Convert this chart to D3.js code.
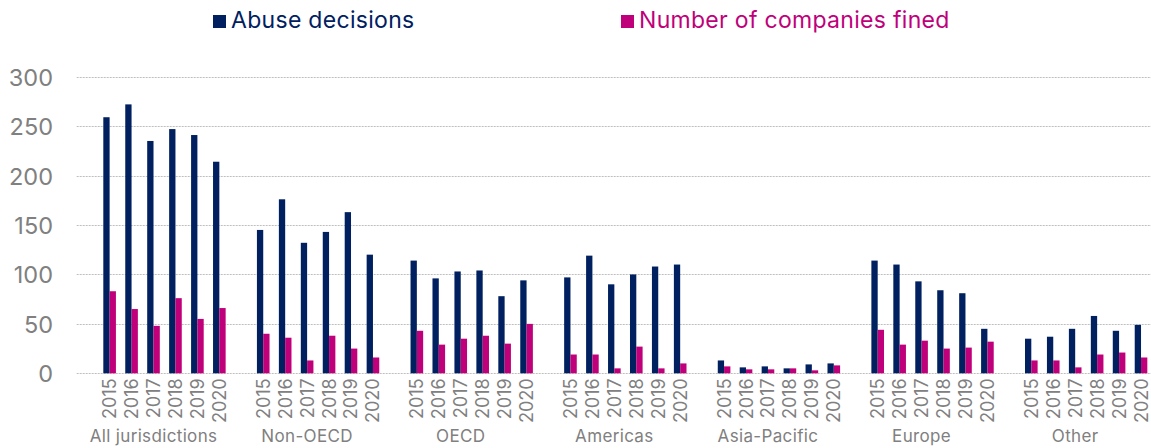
<!DOCTYPE html>
<html>
<head>
<meta charset="utf-8">
<script src="https://cdn.jsdelivr.net/npm/d3@7"></script>
<style>
  html, body { margin: 0; padding: 0; background: #fff; }
  svg { display: block; font-family: "Inter", "Open Sans", sans-serif; }
</style>
</head>
<body>
<svg id="chart" width="1151" height="448"></svg>
<script>
// Jurisdiction groups and years shown in each group
const groups = ["All jurisdictions", "Non-OECD", "OECD", "Americas", "Asia-Pacific", "Europe", "Other"];
const years = ["2015", "2016", "2017", "2018", "2019", "2020"];

// Abuse decisions per group, 2015–2020
const abuseDecisions = [
  [259, 272, 235, 247, 241, 214],
  [145, 176, 132, 143, 163, 120],
  [114, 96, 103, 104, 78, 94],
  [97, 119, 90, 100, 108, 110],
  [13, 6, 7, 5, 9, 10],
  [114, 110, 93, 84, 81, 45],
  [35, 37, 45, 58, 43, 49]
];

// Number of companies fined per group, 2015–2020
const companiesFined = [
  [83, 65, 48, 76, 55, 66],
  [40, 36, 13, 38, 25, 16],
  [43, 29, 35, 38, 30, 50],
  [19, 19, 5, 27, 5, 10],
  [7, 4, 4, 5, 3, 8],
  [44, 29, 33, 25, 26, 32],
  [13, 13, 6, 19, 21, 16]
];

const yTicks = [0, 50, 100, 150, 200, 250, 300];
const seriesNames = ["Abuse decisions", "Number of companies fined"];
const colors = ["#002060", "#c0007a"];
const gray = "#808080";

const svg = d3.select("#chart");
const margin = { left: 76.7, right: 1152, top: 76.7, bottom: 373.3 };

// Slots: a blank slot before each group, then one slot per year
const slots = [];
groups.forEach((g, gi) => {
  slots.push("blank-" + gi);
  years.forEach(y => slots.push(g + "|" + y));
});

const x = d3.scaleBand().domain(slots).range([margin.left, margin.right]).paddingInner(0).paddingOuter(0);
const y = d3.scaleLinear().domain([0, 300]).range([margin.bottom, margin.top]);
const inner = d3.scaleBand().domain([0, 1]).range([0, x.bandwidth()]).paddingInner(0).paddingOuter(0.74);

// Horizontal dotted gridlines
svg.append("g")
  .selectAll("line")
  .data(yTicks)
  .join("line")
  .attr("x1", margin.left)
  .attr("x2", 1151)
  .attr("y1", d => Math.round(y(d)) + 0.5)
  .attr("y2", d => Math.round(y(d)) + 0.5)
  .attr("stroke", "#bfbfbf")
  .attr("stroke-width", 1)
  .attr("stroke-dasharray", "2,1");

// Y axis labels
const yAxis = d3.axisLeft(y).tickValues(yTicks).tickSize(0).tickPadding(0);
svg.append("g")
  .attr("transform", `translate(53,0)`)
  .call(yAxis)
  .call(g => g.select(".domain").remove())
  .call(g => g.selectAll("text")
    .attr("fill", gray)
    .attr("font-size", 23.5)
    .attr("font-family", "Inter, sans-serif")
    .attr("dy", "0.36em"));

// Bars
const barData = [];
groups.forEach((g, gi) => {
  years.forEach((yr, yi) => {
    [abuseDecisions[gi][yi], companiesFined[gi][yi]].forEach((v, si) => {
      barData.push({ key: g + "|" + yr, series: si, value: v });
    });
  });
});

svg.append("g")
  .selectAll("rect")
  .data(barData)
  .join("rect")
  .attr("x", d => x(d.key) + inner(d.series))
  .attr("width", inner.bandwidth())
  .attr("y", d => y(d.value))
  .attr("height", d => y(0) - y(d.value))
  .attr("fill", d => colors[d.series]);

// Year labels, rotated
const xAxis = d3.axisBottom(x)
  .tickValues(slots.filter(s => !s.startsWith("blank")))
  .tickFormat(s => s.split("|")[1])
  .tickSize(0)
  .tickPadding(0);

svg.append("g")
  .attr("transform", `translate(0,${margin.bottom})`)
  .call(xAxis)
  .call(g => g.select(".domain").remove())
  .call(g => g.selectAll("text")
    .attr("fill", gray)
    .attr("font-size", 18)
    .attr("font-family", "Inter, sans-serif")
    .attr("text-anchor", "end")
    .attr("transform", "rotate(-90)")
    .attr("x", -5)
    .attr("y", 0)
    .attr("dy", "0.36em"));

// Group labels, centred over the group's leading gap and its years
svg.append("g")
  .selectAll("text")
  .data(groups)
  .join("text")
  .attr("x", (g, gi) => (x("blank-" + gi) + x(g + "|2020") + x.bandwidth()) / 2)
  .attr("y", 442)
  .attr("text-anchor", "middle")
  .attr("fill", gray)
  .attr("font-size", 17)
  .attr("letter-spacing", 0.35)
  .text(g => g);

// Legend
const legendX = [213, 621];
const legend = svg.append("g")
  .selectAll("g")
  .data(seriesNames)
  .join("g")
  .attr("transform", (d, i) => `translate(${legendX[i]},0)`);

legend.append("rect")
  .attr("x", 0)
  .attr("y", 15)
  .attr("width", 13)
  .attr("height", 13)
  .attr("fill", (d, i) => colors[i]);

legend.append("text")
  .attr("x", 18)
  .attr("y", 28)
  .attr("fill", (d, i) => colors[i])
  .attr("font-size", 23)
  .attr("letter-spacing", 0.3)
  .text(d => d);
</script>
</body>
</html>
